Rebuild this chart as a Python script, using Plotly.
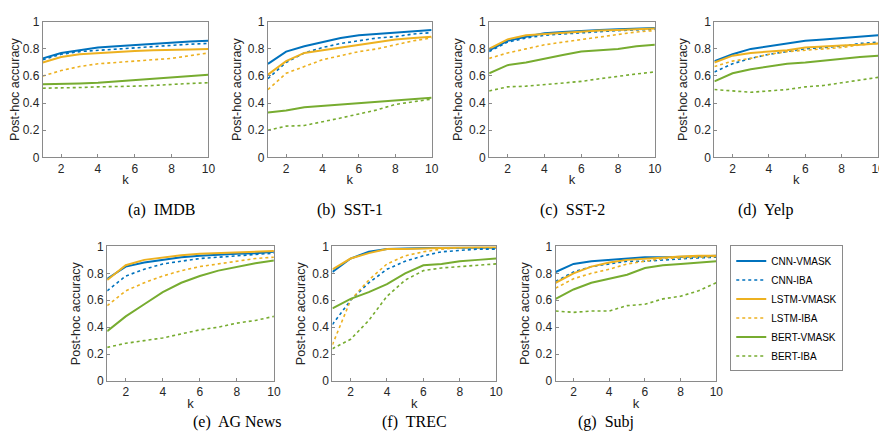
import plotly.graph_objects as go

W, H = 887, 441
k = list(range(1, 11))
series = ["CNN-VMASK", "CNN-IBA", "LSTM-VMASK", "LSTM-IBA", "BERT-VMASK", "BERT-IBA"]
titles = ["(a)  IMDB", "(b)  SST-1", "(c)  SST-2", "(d)  Yelp", "(e)  AG News", "(f)  TREC", "(g)  Subj"]

imdb = [
    [.73, .77, .79, .81, .82, .83, .84, .85, .855, .86],
    [.72, .76, .78, .79, .80, .81, .82, .83, .835, .84],
    [.70, .74, .76, .77, .78, .785, .79, .79, .795, .80],
    [.60, .64, .67, .69, .70, .71, .72, .73, .75, .77],
    [.54, .54, .545, .55, .56, .57, .58, .59, .60, .61],
    [.51, .51, .515, .52, .52, .525, .53, .54, .545, .55],
]
sst1 = [
    [.69, .78, .82, .85, .88, .90, .91, .92, .93, .94],
    [.58, .70, .77, .81, .84, .86, .88, .89, .91, .92],
    [.61, .71, .77, .79, .81, .83, .85, .87, .88, .89],
    [.50, .62, .67, .72, .75, .78, .80, .83, .86, .88],
    [.33, .345, .37, .38, .39, .40, .415, .425, .435, .44],
    [.20, .23, .235, .26, .29, .32, .35, .39, .41, .43],
]
sst2 = [
    [.79, .86, .89, .915, .925, .935, .94, .945, .95, .955],
    [.78, .85, .88, .90, .91, .92, .93, .935, .94, .945],
    [.80, .87, .90, .91, .92, .93, .935, .94, .945, .95],
    [.73, .77, .80, .83, .85, .87, .89, .91, .925, .935],
    [.62, .68, .70, .73, .755, .78, .79, .80, .82, .83],
    [.49, .52, .525, .535, .545, .56, .58, .60, .615, .63],
]
yelp = [
    [.71, .76, .80, .82, .84, .86, .87, .88, .89, .90],
    [.63, .69, .73, .76, .78, .80, .81, .82, .84, .85],
    [.70, .75, .77, .78, .79, .81, .82, .825, .83, .84],
    [.67, .71, .73, .76, .78, .79, .80, .81, .83, .84],
    [.56, .62, .65, .67, .69, .70, .715, .73, .74, .75],
    [.50, .49, .48, .49, .50, .52, .53, .55, .57, .59],
]
agnews = [
    [.76, .85, .88, .90, .92, .93, .94, .945, .95, .96],
    [.67, .78, .83, .87, .89, .91, .92, .93, .94, .95],
    [.75, .86, .90, .92, .935, .945, .95, .955, .96, .965],
    [.56, .67, .73, .78, .82, .85, .87, .89, .91, .92],
    [.37, .48, .57, .66, .73, .78, .82, .85, .875, .895],
    [.25, .28, .30, .32, .35, .38, .40, .43, .45, .48],
]
trec = [
    [.81, .91, .96, .98, .985, .99, .99, .99, .99, .99],
    [.42, .60, .73, .83, .89, .93, .96, .97, .98, .98],
    [.83, .91, .95, .98, .98, .985, .99, .995, .995, .995],
    [.27, .60, .75, .87, .93, .96, .98, .99, .99, .99],
    [.54, .61, .66, .72, .80, .86, .87, .89, .90, .91],
    [.24, .31, .45, .63, .75, .82, .84, .85, .865, .87],
]
subj = [
    [.81, .87, .89, .90, .91, .92, .92, .92, .925, .93],
    [.74, .81, .85, .87, .89, .89, .90, .91, .915, .92],
    [.73, .80, .85, .88, .90, .91, .92, .925, .93, .93],
    [.69, .76, .80, .83, .87, .89, .91, .915, .92, .925],
    [.61, .68, .73, .76, .79, .84, .86, .87, .88, .89],
    [.52, .51, .52, .52, .56, .57, .61, .63, .67, .73],
]
datasets = [imdb, sst1, sst2, yelp, agnews, trec, subj]

colors = ["#0072BD", "#0072BD", "#EDB120", "#EDB120", "#77AC30", "#77AC30"]
dashes = ["solid", "dot", "solid", "dot", "solid", "dot"]

# plot boxes in pixels: left, right, top, bottom
boxes = [(35, 202, 7, 147), (262, 427, 7, 147), (485, 652, 7, 147), (712, 877, 7, 147),
         (100, 268, 239, 378), (327, 492, 239, 378), (552, 714, 239, 378)]
caption_y = [201, 201, 201, 201, 432, 432, 432]

fig = go.Figure()
layout = {}
annotations = []
for i, (data, box) in enumerate(zip(datasets, boxes)):
    n = "" if i == 0 else str(i + 1)
    l, r, t, b = box
    for j, name in enumerate(series):
        fig.add_trace(go.Scatter(
            x=k, y=data[j], mode="lines", name=name,
            line=dict(color=colors[j], dash=dashes[j], width=2 if dashes[j] == "solid" else 1.6),
            xaxis="x" + n, yaxis="y" + n, showlegend=(i == 0)))
    common = dict(showline=True, linecolor="#8a8a8a", linewidth=1, mirror=True,
                  ticks="inside", ticklen=3, tickcolor="#8a8a8a", showgrid=False,
                  zeroline=False, tickfont=dict(size=12, color="#262626"))
    layout["xaxis" + n] = dict(domain=[l / W, r / W], range=[1, 10], anchor="y" + n,
                               tickvals=[2, 4, 6, 8, 10],
                               title=dict(text="k", standoff=0,
                                          font=dict(size=13, color="#262626", family="Liberation Sans")),
                               **common)
    layout["yaxis" + n] = dict(domain=[1 - b / H, 1 - t / H], range=[0, 1], anchor="x" + n,
                               tickvals=[0, .2, .4, .6, .8, 1],
                               ticktext=["0", "0.2", "0.4", "0.6", "0.8", "1"],
                               title=dict(text="Post-hoc accuracy", standoff=3,
                                          font=dict(size=12.5, color="#262626", family="Liberation Sans")),
                               **common)
    annotations.append(dict(text=titles[i], x=(l + r) / 2 / W, y=1 - caption_y[i] / H,
                            xref="paper", yref="paper", showarrow=False,
                            font=dict(family="Liberation Serif", size=16, color="black")))

fig.update_layout(
    **layout,
    annotations=annotations,
    width=W, height=H,
    margin=dict(l=0, r=0, t=0, b=0),
    paper_bgcolor="white", plot_bgcolor="white",
    font=dict(family="Liberation Sans", color="#262626"),
    legend=dict(x=728 / W, y=1 - 238 / H, xanchor="left", yanchor="top",
                bordercolor="#8a8a8a", borderwidth=1, tracegroupgap=0,
                font=dict(size=10, color="black"), itemwidth=30),
)
fig.write_html("out.html")
